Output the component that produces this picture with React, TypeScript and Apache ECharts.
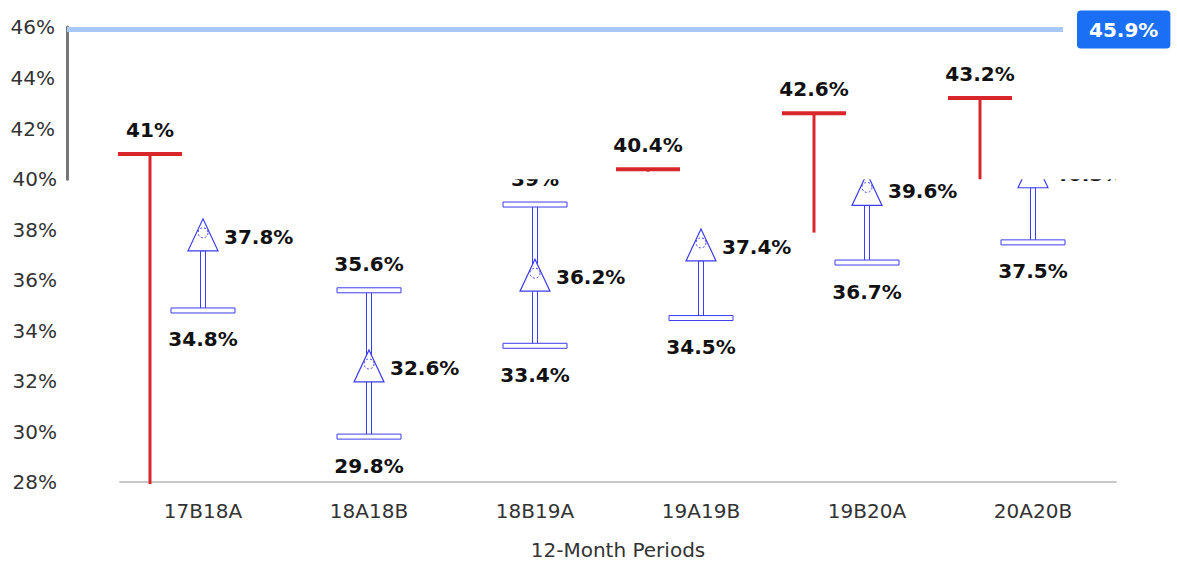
import React, { useEffect, useRef } from "react";
import * as echarts from "echarts";

const categories = ["17B18A", "18A18B", "18B19A", "19A19B", "19B20A", "20A20B"];
// blue interval marks (lower part of the picture)
const blueMean = [37.8, 32.6, 36.2, 37.4, 39.6, 40.3];
const blueLow = [34.8, 29.8, 33.4, 34.5, 36.7, 37.5];
const blueHigh: (number | null)[] = [null, 35.6, 39.0, null, null, null];
// red upper caps (upper part of the picture)
const redHigh: (number | null)[] = [41, null, null, 40.4, 42.6, 43.2];
const redLow: (number | null)[] = [28, null, null, 40.3, 37.9, 40.0];
const maxLine = 45.9;
const yTicksTop = [40, 46];
const yTicksBottom = [28, 40];
const xAxisName = "12-Month Periods";

const FONT = "DejaVu Sans";
const BLUE = "#3c3cf0";
const RED = "#d9262b";
const fmt = (v: number) => `${+v.toFixed(1)}%`;

export default function App() {
  const ref = useRef<HTMLDivElement>(null);
  useEffect(() => {
    if (!ref.current) return;
    const chart = echarts.init(ref.current, null, { renderer: "svg" });
    const labelStyle = {
      fontFamily: FONT,
      fontSize: 20,
      fontWeight: "bold",
      fill: "#111",
    };
    chart.setOption({
      animation: false,
      grid: [
        { left: 67, right: 114, top: 27, bottom: 385.7 },
        { left: 120, right: 61, top: 179.3, bottom: 81 },
      ],
      xAxis: [
        { type: "category", gridIndex: 0, data: categories, show: false },
        {
          type: "category",
          gridIndex: 1,
          data: categories,
          axisLine: { show: true, lineStyle: { color: "#c8c8c8", width: 2 } },
          axisTick: { show: false },
          axisLabel: { fontFamily: FONT, fontSize: 20, color: "#333", margin: 19 },
          name: xAxisName,
          nameLocation: "middle",
          nameGap: 58,
          nameTextStyle: { fontFamily: FONT, fontSize: 20, color: "#333" },
        },
      ],
      yAxis: [
        {
          type: "value",
          gridIndex: 0,
          min: yTicksTop[0],
          max: yTicksTop[1],
          interval: 2,
          axisLine: { show: true, lineStyle: { color: "#777", width: 3 } },
          axisTick: { show: false },
          splitLine: { show: false },
          axisLabel: {
            formatter: "{value}%",
            fontFamily: FONT,
            fontSize: 20,
            color: "#333",
            margin: 12,
            showMinLabel: false,
          },
        },
        {
          type: "value",
          gridIndex: 1,
          min: yTicksBottom[0],
          max: yTicksBottom[1],
          interval: 2,
          axisLine: { show: false },
          axisTick: { show: false },
          splitLine: { show: false },
          axisLabel: {
            formatter: "{value}%",
            fontFamily: FONT,
            fontSize: 20,
            color: "#333",
            margin: 63,
          },
        },
      ],
      series: [
        {
          type: "custom",
          name: "upper",
          xAxisIndex: 0,
          yAxisIndex: 0,
          clip: false,
          data: categories.map((c, i) => [i, redHigh[i] ?? 0]),
          renderItem: (params: any, api: any) => {
            const i = params.dataIndex;
            const hi = redHigh[i];
            const lo = redLow[i];
            if (hi == null || lo == null) return { type: "group", children: [] };
            const [x, yh] = api.coord([i, hi]);
            const yl = api.coord([i, lo])[1];
            return {
              type: "group",
              children: [
                {
                  type: "line",
                  shape: { x1: x, y1: yh, x2: x, y2: yl },
                  style: { stroke: RED, lineWidth: 3 },
                },
                {
                  type: "line",
                  shape: { x1: x - 32, y1: yh, x2: x + 32, y2: yh },
                  style: { stroke: RED, lineWidth: 4 },
                },
                {
                  type: "text",
                  x,
                  y: yh - 24,
                  style: { ...labelStyle, text: fmt(hi), align: "center", verticalAlign: "middle" },
                },
              ],
            };
          },
          markLine: {
            silent: true,
            symbol: "none",
            data: [{ yAxis: maxLine }],
            lineStyle: { color: "#a8c8f8", width: 5, type: "solid" },
            label: {
              position: "end",
              formatter: (p: any) => fmt(p.value),
              backgroundColor: "#1a6ff5",
              color: "#fff",
              fontFamily: FONT,
              fontWeight: "bold",
              fontSize: 20,
              padding: [9, 12],
              borderRadius: 4,
              distance: 14,
            },
          },
        },
        {
          type: "custom",
          name: "interval",
          xAxisIndex: 1,
          yAxisIndex: 1,
          clip: true,
          data: categories.map((c, i) => [i, blueMean[i], blueLow[i]]),
          renderItem: (params: any, api: any) => {
            const i = params.dataIndex;
            const mean = blueMean[i];
            const low = blueLow[i];
            const high = blueHigh[i];
            const [x, ym] = api.coord([i, mean]);
            const yl = api.coord([i, low])[1];
            const yh = high != null ? api.coord([i, high])[1] : ym + 16;
            const children: any[] = [
              {
                type: "rect",
                shape: { x: x - 2.5, y: yh, width: 5, height: yl - yh },
                style: { fill: "#fff", stroke: BLUE, lineWidth: 1 },
              },
              {
                type: "rect",
                shape: { x: x - 32, y: yl - 2.5, width: 64, height: 5 },
                style: { fill: "#fff", stroke: BLUE, lineWidth: 1 },
              },
              {
                type: "polygon",
                shape: { points: [[x, ym - 16], [x + 15, ym + 16], [x - 15, ym + 16]] },
                style: { fill: "#fff", stroke: BLUE, lineWidth: 1.2 },
              },
              {
                type: "circle",
                shape: { cx: x, cy: ym - 2, r: 5 },
                style: { fill: "none", stroke: BLUE, lineWidth: 1, lineDash: [2, 2] },
              },
              {
                type: "text",
                x: x + 21,
                y: ym + 2,
                style: { ...labelStyle, text: fmt(mean), align: "left", verticalAlign: "middle" },
              },
              {
                type: "text",
                x,
                y: yl + 29,
                style: { ...labelStyle, text: fmt(low), align: "center", verticalAlign: "middle" },
              },
            ];
            if (high != null) {
              children.push(
                {
                  type: "rect",
                  shape: { x: x - 32, y: yh - 2.5, width: 64, height: 5 },
                  style: { fill: "#fff", stroke: BLUE, lineWidth: 1 },
                },
                {
                  type: "text",
                  x,
                  y: yh - 26,
                  style: { ...labelStyle, text: fmt(high), align: "center", verticalAlign: "middle" },
                }
              );
            }
            return { type: "group", children };
          },
        },
      ],
    });
    return () => chart.dispose();
  }, []);
  return (
    <div
      ref={ref}
      style={{ position: "fixed", left: 0, top: 0, width: 1177, height: 565, background: "#fff" }}
    />
  );
}
